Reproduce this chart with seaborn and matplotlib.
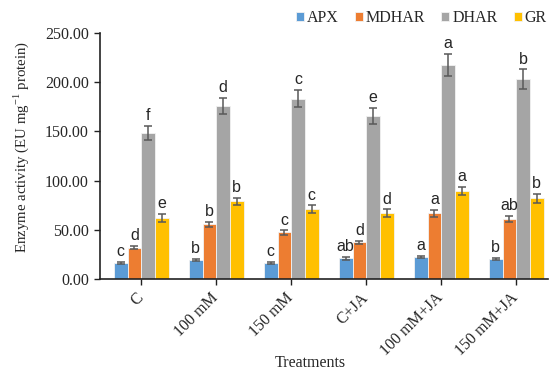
import numpy as np
import pandas as pd
import matplotlib
matplotlib.use('Agg')
import matplotlib.pyplot as plt
import seaborn as sns

# 데이터
treatments = ['C', '100 mM', '150 mM', 'C+JA', '100 mM+JA', '150 mM+JA']
enzymes = ['APX', 'MDHAR', 'DHAR', 'GR']

apx = [16.0, 19.4, 16.4, 20.9, 22.6, 20.1]
mdhar = [31.8, 55.4, 47.3, 37.1, 66.8, 61.0]
dhar = [148.6, 176.0, 183.3, 165.7, 217.7, 203.0]
gr = [62.0, 78.8, 70.9, 67.0, 89.2, 82.0]

apx_err = [1.0, 1.0, 1.0, 1.5, 1.2, 1.0]
mdhar_err = [1.8, 2.8, 2.2, 2.0, 3.5, 3.2]
dhar_err = [7.0, 8.3, 9.0, 8.0, 11.0, 10.0]
gr_err = [4.0, 3.5, 4.0, 3.8, 4.2, 4.5]

apx_lab = ['c', 'b', 'c', 'ab', 'a', 'b']
mdhar_lab = ['d', 'b', 'c', 'd', 'a', 'ab']
dhar_lab = ['f', 'd', 'c', 'e', 'a', 'b']
gr_lab = ['e', 'b', 'c', 'd', 'a', 'b']

colors = ['#5B9BD5', '#ED7D31', '#A5A5A5', '#FFC000']

values = [apx, mdhar, dhar, gr]
errors = [apx_err, mdhar_err, dhar_err, gr_err]
labels = [apx_lab, mdhar_lab, dhar_lab, gr_lab]

df = pd.DataFrame({
    'Treatments': np.tile(treatments, 4),
    'Enzyme': np.repeat(enzymes, 6),
    'value': np.concatenate(values),
})

sns.set_style('white')
plt.rcParams['font.family'] = ['Liberation Serif', 'DejaVu Serif']
plt.rcParams['mathtext.fontset'] = 'custom'
plt.rcParams['mathtext.rm'] = 'Liberation Serif'

fig = plt.figure(figsize=(5.5, 3.72), dpi=100)
ax = fig.add_axes([100 / 550, 93 / 372, 448 / 550, 246 / 372])

sns.barplot(data=df, x='Treatments', y='value', hue='Enzyme',
            order=treatments, hue_order=enzymes, palette=colors,
            saturation=1, errorbar=None, width=0.73, edgecolor='#f2f2f2',
            linewidth=0.6, ax=ax)

# 오차 막대와 유의성 문자
bar_groups = list(ax.containers)[:4]
for k, cont in enumerate(bar_groups):
    for i, bar in enumerate(cont):
        xc = bar.get_x() + bar.get_width() / 2
        h = bar.get_height()
        e = errors[k][i]
        ax.errorbar(xc, h, yerr=e, fmt='none', ecolor='#595959',
                    elinewidth=1.1, capsize=3.2, capthick=1.1)
        ax.annotate(labels[k][i], (xc, h + e), xytext=(0, 2),
                    textcoords='offset points', ha='center', va='bottom',
                    fontsize=11.5, family=['Liberation Sans', 'DejaVu Sans'])

ax.set_ylim(0, 250)
ax.set_xlim(-0.55, -0.55 + 448 / 75)
ax.set_yticks(np.arange(0, 251, 50))
ax.set_yticklabels([f'{v:.2f}' for v in np.arange(0, 251, 50)], fontsize=11.5)
ax.set_xticks(range(len(treatments)))
ax.set_xticklabels(treatments, rotation=45, ha='right', va='center',
                   rotation_mode='anchor', fontsize=11.5)
ax.tick_params(axis='y', direction='out', length=4, width=1, color='#222222',
               left=True, pad=4)
ax.tick_params(axis='x', direction='out', length=4, width=1, color='#222222',
               bottom=True, pad=8)
for s in ['top', 'right']:
    ax.spines[s].set_visible(False)
for s in ['left', 'bottom']:
    ax.spines[s].set_color('#222222')
    ax.spines[s].set_linewidth(1.2)

ax.set_xlabel('Treatments', fontsize=11.5)
ax.xaxis.set_label_coords(0.47, -0.31)
ax.set_ylabel(r'Enzyme activity (EU mg$^{-1}$ protein)', fontsize=10.7)
ax.yaxis.set_label_coords(-0.155, 0.535)

handles, lbls = ax.get_legend_handles_labels()
ax.legend(handles, lbls, loc='center right', bbox_to_anchor=(1.012, 1.06),
          ncol=4, frameon=False, fontsize=11.5, handlelength=0.5,
          handleheight=0.5, handletextpad=0.2, columnspacing=1.0,
          borderaxespad=0)

fig.savefig('out.png', dpi=100)
